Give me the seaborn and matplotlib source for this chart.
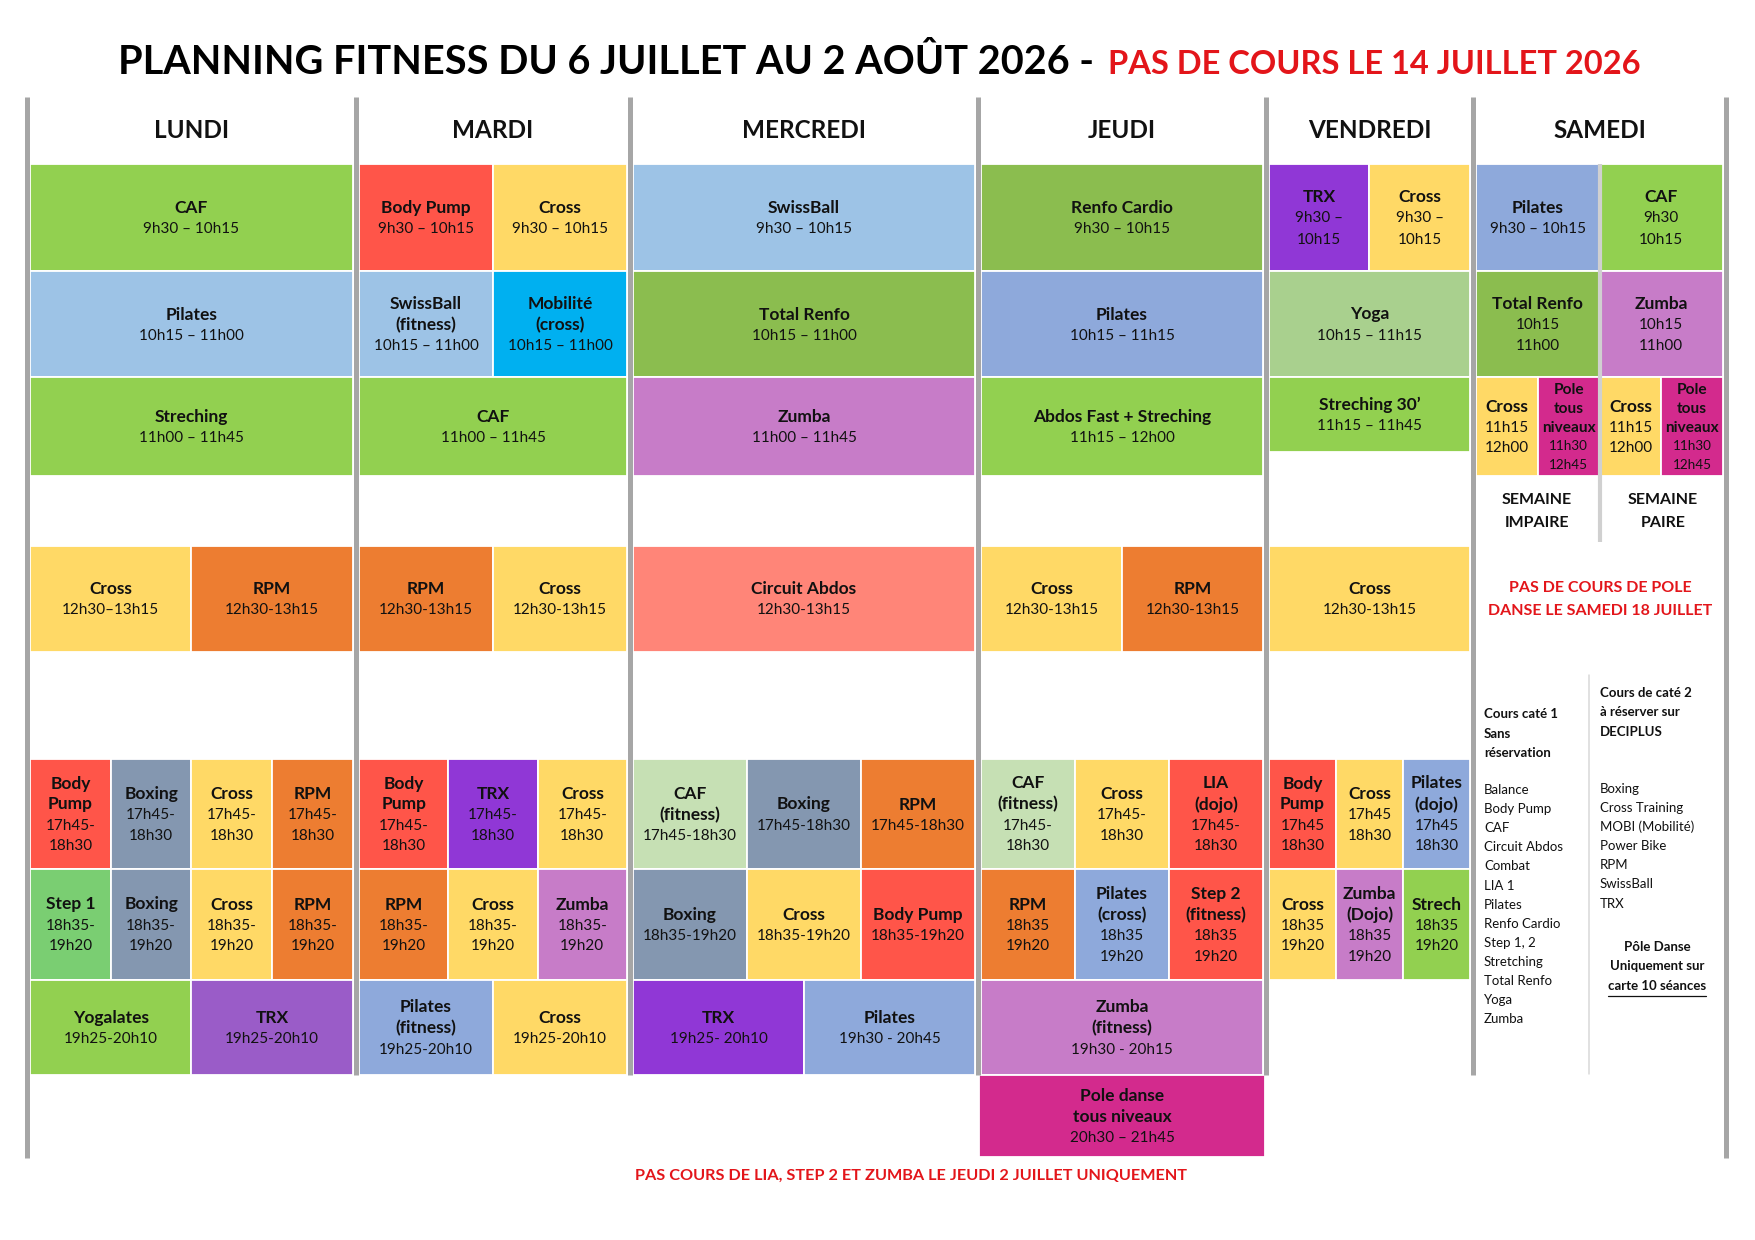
import matplotlib
matplotlib.use("Agg")
import matplotlib.pyplot as plt
import seaborn as sns
from matplotlib.patches import Rectangle

sns.set_theme(style="white")
plt.rcParams["font.family"] = ["Lato", "DejaVu Sans"]

# ---- data -------------------------------------------------------------
DAYS = ["LUNDI", "MARDI", "MERCREDI", "JEUDI", "VENDREDI", "SAMEDI"]

# (row, activity, times) - row 0 = 9h30 ... row 7 = 20h30
LUNDI = [
    (0, "CAF", "9h30 – 10h15"),
    (1, "Pilates", "10h15 – 11h00"),
    (2, "Streching", "11h00 – 11h45"),
    (3, "Cross", "12h30–13h15"),
    (3, "RPM", "12h30-13h15"),
    (4, "Body\nPump", "17h45-\n18h30"),
    (4, "Boxing", "17h45-\n18h30"),
    (4, "Cross", "17h45-\n18h30"),
    (4, "RPM", "17h45-\n18h30"),
    (5, "Step 1", "18h35-\n19h20"),
    (5, "Boxing", "18h35-\n19h20"),
    (5, "Cross", "18h35-\n19h20"),
    (5, "RPM", "18h35-\n19h20"),
    (6, "Yogalates", "19h25-20h10"),
    (6, "TRX", "19h25-20h10"),
]
MARDI = [
    (0, "Body Pump", "9h30 – 10h15"),
    (0, "Cross", "9h30 – 10h15"),
    (1, "SwissBall\n(fitness)", "10h15 – 11h00"),
    (1, "Mobilité\n(cross)", "10h15 – 11h00"),
    (2, "CAF", "11h00 – 11h45"),
    (3, "RPM", "12h30-13h15"),
    (3, "Cross", "12h30-13h15"),
    (4, "Body\nPump", "17h45-\n18h30"),
    (4, "TRX", "17h45-\n18h30"),
    (4, "Cross", "17h45-\n18h30"),
    (5, "RPM", "18h35-\n19h20"),
    (5, "Cross", "18h35-\n19h20"),
    (5, "Zumba", "18h35-\n19h20"),
    (6, "Pilates\n(fitness)", "19h25-20h10"),
    (6, "Cross", "19h25-20h10"),
]
MERCREDI = [
    (0, "SwissBall", "9h30 – 10h15"),
    (1, "Total Renfo", "10h15 – 11h00"),
    (2, "Zumba", "11h00 – 11h45"),
    (3, "Circuit Abdos", "12h30-13h15"),
    (4, "CAF\n(fitness)", "17h45-18h30"),
    (4, "Boxing", "17h45-18h30"),
    (4, "RPM", "17h45-18h30"),
    (5, "Boxing", "18h35-19h20"),
    (5, "Cross", "18h35-19h20"),
    (5, "Body Pump", "18h35-19h20"),
    (6, "TRX", "19h25- 20h10"),
    (6, "Pilates", "19h30 - 20h45"),
]
JEUDI = [
    (0, "Renfo Cardio", "9h30 – 10h15"),
    (1, "Pilates", "10h15 – 11h15"),
    (2, "Abdos Fast + Streching", "11h15 – 12h00"),
    (3, "Cross", "12h30-13h15"),
    (3, "RPM", "12h30-13h15"),
    (4, "CAF\n(fitness)", "17h45-\n18h30"),
    (4, "Cross", "17h45-\n18h30"),
    (4, "LIA\n(dojo)", "17h45-\n18h30"),
    (5, "RPM", "18h35\n19h20"),
    (5, "Pilates\n(cross)", "18h35\n19h20"),
    (5, "Step 2\n(fitness)", "18h35\n19h20"),
    (6, "Zumba\n(fitness)", "19h30 - 20h15"),
    (7, "Pole danse\ntous niveaux", "20h30 – 21h45"),
]
VENDREDI = [
    (0, "TRX", "9h30 –\n10h15"),
    (0, "Cross", "9h30 –\n10h15"),
    (1, "Yoga", "10h15 – 11h15"),
    (2, "Streching 30’", "11h15 – 11h45"),
    (3, "Cross", "12h30-13h15"),
    (4, "Body\nPump", "17h45\n18h30"),
    (4, "Cross", "17h45\n18h30"),
    (4, "Pilates\n(dojo)", "17h45\n18h30"),
    (5, "Cross", "18h35\n19h20"),
    (5, "Zumba\n(Dojo)", "18h35\n19h20"),
    (5, "Strech", "18h35\n19h20"),
]
SAMEDI = [
    (0, "Pilates", "9h30 – 10h15"),
    (0, "CAF", "9h30\n10h15"),
    (1, "Total Renfo", "10h15\n11h00"),
    (1, "Zumba", "10h15\n11h00"),
    (2, "Cross", "11h15\n12h00"),
    (2, "Pole\ntous\nniveaux", "11h30\n12h45"),
    (2, "Cross", "11h15\n12h00"),
    (2, "Pole\ntous\nniveaux", "11h30\n12h45"),
]
PLANNING = [LUNDI, MARDI, MERCREDI, JEUDI, VENDREDI, SAMEDI]

WEEKS = ["SEMAINE\nIMPAIRE", "SEMAINE\nPAIRE"]
POLE_WARNING = ["PAS DE COURS DE POLE", "DANSE LE SAMEDI 18 JUILLET"]
CAT1_HEAD = ["Cours caté 1", "Sans", "réservation"]
CAT1 = ["Balance", "Body Pump", "CAF", "Circuit Abdos", "Combat", "LIA 1",
        "Pilates", "Renfo Cardio", "Step 1, 2", "Stretching", "Total Renfo",
        "Yoga", "Zumba"]
CAT2_HEAD = ["Cours de caté 2", "à réserver sur", "DECIPLUS"]
CAT2 = ["Boxing", "Cross Training", "MOBI (Mobilité)", "Power Bike", "RPM",
        "SwissBall", "TRX"]
POLE_NOTE = ["Pôle Danse", "Uniquement sur", "carte 10 séances"]

TITLE_BLACK = "PLANNING FITNESS DU 6 JUILLET AU 2 AOÛT 2026 -"
TITLE_RED = "PAS DE COURS LE 14 JUILLET 2026"
FOOTNOTE = "PAS COURS DE LIA, STEP 2 ET ZUMBA LE JEUDI 2 JUILLET UNIQUEMENT"

# ---- styles -----------------------------------------------------------
COLOURS = {
    "CAF": "#92D050", "CAF (fitness)": "#C6E0B4", "Streching": "#92D050",
    "Strech": "#92D050", "Yogalates": "#92D050", "Abdos": "#92D050",
    "Pilates": "#8EA9DB", "Cross": "#FFD966", "RPM": "#ED7D31",
    "Body": "#FF5549", "LIA": "#FF5549", "Step 2 (fitness)": "#FF5549",
    "Step 1": "#7ACE72", "Boxing": "#8497B0", "TRX": "#9037D6",
    "SwissBall": "#9DC3E6", "Mobilité": "#00B0F0", "Total": "#8BBD4F",
    "Renfo": "#8BBD4F", "Zumba": "#C77CC8", "Circuit": "#FF8578",
    "Yoga": "#A9D08E", "Pole": "#D32A8D",
}
OVERRIDES = {("LUNDI", "Pilates"): "#9DC3E6", ("LUNDI", "TRX"): "#9A5CC8"}
RED = "#E3151A"
GREY = "#A6A6A6"

# ---- layout (pixels) --------------------------------------------------
W, H = 1755, 1240
SEPS = [27, 356, 630, 978, 1266, 1473, 1726]
SEP_BOTTOM = [1158, 1075, 1075, 1075, 1075, 1075, 1158]
GRID_TOP = 97
ROW_TOP = [164, 271, 377, 546, 759, 869, 980, 1075]
ROW_BOT = [271, 377, 476, 652, 869, 980, 1075, 1157]
SHORT = {("VENDREDI", 2): 452}


def colour_for(day, label):
    flat = label.replace("\n", " ")
    if (day, flat) in OVERRIDES:
        return OVERRIDES[(day, flat)]
    if flat in COLOURS:
        return COLOURS[flat]
    return COLOURS[flat.split()[0]]


def fitted_text(ax, x, y, txt, size, bold, maxw, renderer, **kw):
    t = ax.text(x, y, txt, fontsize=size,
                fontweight="bold" if bold else "normal", **kw)
    w = t.get_window_extent(renderer).width
    if w > maxw:
        t.set_fontsize(size * maxw / w)
    return t


def cell_text(ax, cx, cy, width, height, label, times, renderer):
    lines = [(s, True) for s in label.split("\n")] + \
            [(s, False) for s in times.split("\n")]
    n = len(lines)
    step = min(21.0, (height - 6) / n)
    scale = min(1.0, step / 21.0)
    for i, (s, bold) in enumerate(lines):
        y = cy + (i - (n - 1) / 2) * step + 1
        size = (12.5 if bold else 11) * scale
        fitted_text(ax, cx, y, s, size, bold, width - 8, renderer,
                    ha="center", va="center", color="#111111", zorder=4)


fig = plt.figure(figsize=(W / 100, H / 100), dpi=100)
ax = fig.add_axes([0, 0, 1, 1])
ax.set_xlim(0, W)
ax.set_ylim(H, 0)
ax.axis("off")
renderer = fig.canvas.get_renderer()

# day columns
for d, (day, events) in enumerate(zip(DAYS, PLANNING)):
    x0, x1 = SEPS[d] + 3, SEPS[d + 1] - 3
    ax.text((x0 + x1) / 2, 130, day, ha="center", va="center",
            fontsize=17.5, fontweight="bold", color="#111111")
    rows = {}
    for r, label, times in events:
        rows.setdefault(r, []).append((label, times))
    for r, cells in rows.items():
        n = len(cells)
        top = ROW_TOP[r]
        bot = SHORT.get((day, r), ROW_BOT[r])
        if r == 7:
            x0c, x1c = SEPS[d] + 1, SEPS[d + 1] - 1
        else:
            x0c, x1c = x0, x1
        cw = (x1c - x0c) / n
        for k, (label, times) in enumerate(cells):
            cx0 = x0c + k * cw
            ax.add_patch(Rectangle((cx0, top), cw, bot - top,
                                   facecolor=colour_for(day, label),
                                   edgecolor="white", linewidth=1.3,
                                   zorder=2))
            cell_text(ax, cx0 + cw / 2, (top + bot) / 2, cw, bot - top,
                      label, times, renderer)

# grey day separators
for x, yb in zip(SEPS, SEP_BOTTOM):
    ax.plot([x, x], [GRID_TOP, yb], color=GREY, lw=3.6,
            solid_capstyle="butt", zorder=3)

# samedi extras
ax.plot([1600, 1600], [ROW_TOP[0], 542], color="#D0D0D0", lw=3,
        solid_capstyle="butt", zorder=3)
for cx, txt in zip([1537, 1663], WEEKS):
    for i, s in enumerate(txt.split("\n")):
        ax.text(cx, 500 + 23 * i, s, ha="center", va="center",
                fontsize=11.5, fontweight="bold", color="#111111")
for i, s in enumerate(POLE_WARNING):
    ax.text(1600, 588 + 23 * i, s, ha="center", va="center",
            fontsize=11.5, fontweight="bold", color=RED)

ax.plot([1589, 1589], [675, 1074], color="#D9D9D9", lw=1.1, zorder=3)
for i, s in enumerate(CAT1_HEAD):
    ax.text(1484, 714 + 19.5 * i, s, ha="left", va="center",
            fontsize=9.5, fontweight="bold", color="#111111")
for i, s in enumerate(CAT1):
    ax.text(1484, 790 + 19.1 * i, s, ha="left", va="center",
            fontsize=9.5, color="#111111")
for i, s in enumerate(CAT2_HEAD):
    ax.text(1600, 693 + 19.5 * i, s, ha="left", va="center",
            fontsize=9.5, fontweight="bold", color="#111111")
for i, s in enumerate(CAT2):
    ax.text(1600, 789 + 19.1 * i, s, ha="left", va="center",
            fontsize=9.5, color="#111111")
for i, s in enumerate(POLE_NOTE):
    t = ax.text(1657, 947 + 19.5 * i, s, ha="center", va="center",
                fontsize=9.5, fontweight="bold", color="#111111")
    if i == len(POLE_NOTE) - 1:
        bb = t.get_window_extent(renderer)
        ax.plot([1657 - bb.width / 2, 1657 + bb.width / 2], [996, 996],
                color="#111111", lw=0.9)

# title
tb = ax.text(0, 63, TITLE_BLACK, ha="left", va="center", fontsize=28.5,
             fontweight="bold", color="#000000")
tr = ax.text(0, 65, TITLE_RED, ha="left", va="center", fontsize=23.5,
             fontweight="bold", color=RED)
wb = tb.get_window_extent(renderer).width
wr = tr.get_window_extent(renderer).width
gap = 14
start = 879 - (wb + gap + wr) / 2
tb.set_x(start)
tr.set_x(start + wb + gap)

ax.text(911, 1176, FOOTNOTE, ha="center", va="center", fontsize=11.7,
        fontweight="bold", color=RED)

fig.savefig("out.png", dpi=100, facecolor="white")
